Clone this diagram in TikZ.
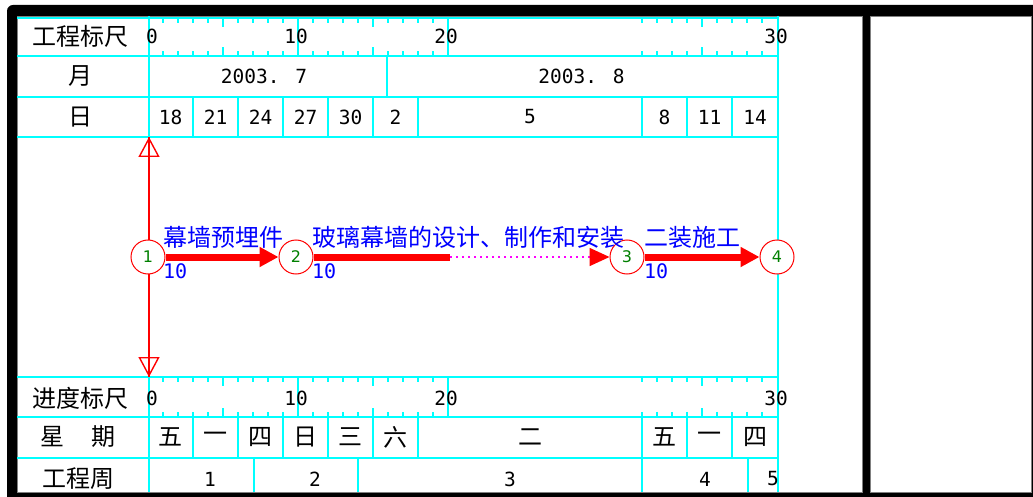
\documentclass[tikz,border=0pt]{standalone}
\usepackage{fontspec}
\usetikzlibrary{arrows.meta}
\newfontfamily\cjk{Noto Sans CJK SC}
\newfontfamily\mono{DejaVu Sans Mono}
\newfontfamily\dvs{DejaVu Sans}
\definecolor{evgreen}{RGB}{0,128,0}
\definecolor{gridcyan}{RGB}{0,255,255}
\definecolor{floatmag}{RGB}{255,0,255}
\definecolor{actblue}{RGB}{0,0,255}
\definecolor{netred}{RGB}{255,0,0}
\begin{document}
\begin{tikzpicture}[x=1pt,y=-1pt,
  gridline/.style={gridcyan,line width=1.5pt},
  cjklbl/.style={font=\cjk\fontsize{24}{24}\selectfont,inner sep=0pt},
  numlbl/.style={font=\mono\fontsize{19.5}{19.5}\selectfont,inner sep=0pt},
  evt/.style={circle,draw=netred,fill=white,line width=1pt,minimum size=34pt,inner sep=0pt,text=evgreen,font=\dvs\fontsize{16}{16}\selectfont},
  work/.style={netred,line width=7pt,-{Triangle[length=19pt,width=19pt]}},
  actlbl/.style={actblue,anchor=west,inner sep=0pt,font=\cjk\fontsize{24}{24}\selectfont},
  durlbl/.style={actblue,anchor=west,inner sep=0pt,font=\mono\fontsize{20}{20}\selectfont}
]
\useasboundingbox (0,0) rectangle (1033,497);
\clip (0,0) rectangle (1033,497);
\fill[white] (0,0) rectangle (1033,497);
% frame
\fill[black,rounded corners=6pt] (7,5) rectangle (1050,515);
\fill[white] (17,16) rectangle (862,492);
\fill[white] (870,16) rectangle (1031,492);
\draw[gray,line width=0.6pt] (17,16) rectangle (862,492);
\draw[gray,line width=0.6pt] (870,16) rectangle (1031,492);

% grid horizontals
\foreach \yy in {18,56,97,137,377,417,458}
  \draw[gridline] (17,\yy) -- (778,\yy);
% main verticals
\draw[gridline] (149,16) -- (149,492);
\draw[gridline] (778,16) -- (778,492);
% month divider
\draw[gridline] (387,56) -- (387,97);
% day and weekday dividers
\foreach \xx in {193,238,283,328,373,418,642,687,732}{
  \draw[gridline] (\xx,97) -- (\xx,137);
  \draw[gridline] (\xx,417) -- (\xx,458);
}
% week dividers
\foreach \xx in {254,358,642,748}
  \draw[gridline] (\xx,458) -- (\xx,492);

% scale ticks
\foreach \ta/\bb in {18/56,377/417}{
  \foreach \u in {1,...,9,11,12,...,19,21,22,...,29}{
    \pgfmathsetmacro\xx{\u<=20 ? 148+15*\u : 642+15*(\u-21)}
    \pgfmathsetmacro\ll{mod(\u,5)==0 ? 9 : 5}
    \draw[gridline] (\xx,\ta) -- ++(0,\ll);
    \draw[gridline] (\xx,\bb) -- ++(0,-\ll);
  }
  \draw[gridline] (298,\ta) -- (298,\bb);
  \draw[gridline] (448,\ta) -- (448,\bb);
}
% scale labels
\foreach \v/\xx [count=\i] in {0/148,10/298,20/448,30/778}{
  \node[numlbl,anchor=east] (su\i) at (\xx+10,36) {\v};
  \node[numlbl,anchor=east] (sl\i) at (\xx+10,398) {\v};
}

% left column labels
\node[cjklbl] (h1) at (80,36) {工程标尺};
\node[cjklbl] (h2) at (80,76) {月};
\node[cjklbl] (h3) at (80,117) {日};
\node[cjklbl] (h4) at (80,398) {进度标尺};
\node[cjklbl] (h5a) at (52.5,437) {星};
\node[cjklbl] (h5b) at (103,437) {期};
\node[cjklbl] (h6) at (78,479) {工程周};

% months
\node[numlbl] (m7) at (264,76) {2003. 7};
\node[numlbl] (m8) at (581.5,76) {2003. 8};

% days and weekdays
\foreach \d/\w/\a/\b [count=\i] in {18/五/148/193,21/一/193/238,24/四/238/283,27/日/283/328,30/三/328/373,2/六/373/418,5/二/418/642,8/五/642/687,11/一/687/732,14/四/732/778}{
  \node[numlbl] (d\i) at ({(\a+\b)/2},117) {\d};
  \node[cjklbl] (w\i) at ({(\a+\b)/2},437) {\w};
}
% project weeks
\foreach \k/\xx in {1/210,2/315,3/510,4/705,5/773}
  \node[numlbl] (pw\k) at (\xx,479) {\k};

% vertical double arrow
\coordinate (vt) at (149,137);
\coordinate (vb) at (149,377);
\coordinate (vm) at (149,257);
\draw[netred,line width=1.4pt] (vt) -- (vb);
\draw[netred,line width=1.4pt,-{Triangle[open,length=20pt,width=21pt]}] (vm) -- (vt);
\draw[netred,line width=1.4pt,-{Triangle[open,length=20pt,width=21pt]}] (vm) -- (vb);

% events
\node[evt] (n1) at (148,257) {1};
\node[evt] (n2) at (296,257) {2};
\node[evt] (n3) at (627,257) {3};
\node[evt] (n4) at (777,257) {4};

% activities
\draw[work] (n1) -- (n2);
\coordinate (f23) at (450,257);
\draw[netred,line width=7pt] (n2) -- (f23);
\draw[floatmag,line width=1.6pt,dash pattern=on 2pt off 4pt,-{Triangle[length=20pt,width=18pt,color=netred,fill=netred]}] (f23) -- (n3);
\draw[work] (n3) -- (n4);

% activity labels
\node[actlbl] (a12) at (163,237) {幕墙预埋件};
\node[actlbl] (a23) at (312,237) {玻璃幕墙的设计、制作和安装};
\node[actlbl] (a34) at (644,237) {二装施工};
\node[durlbl] (t12) at (163,271.5) {10};
\node[durlbl] (t23) at (312,271.5) {10};
\node[durlbl] (t34) at (644,271.5) {10};
\end{tikzpicture}
\end{document}
